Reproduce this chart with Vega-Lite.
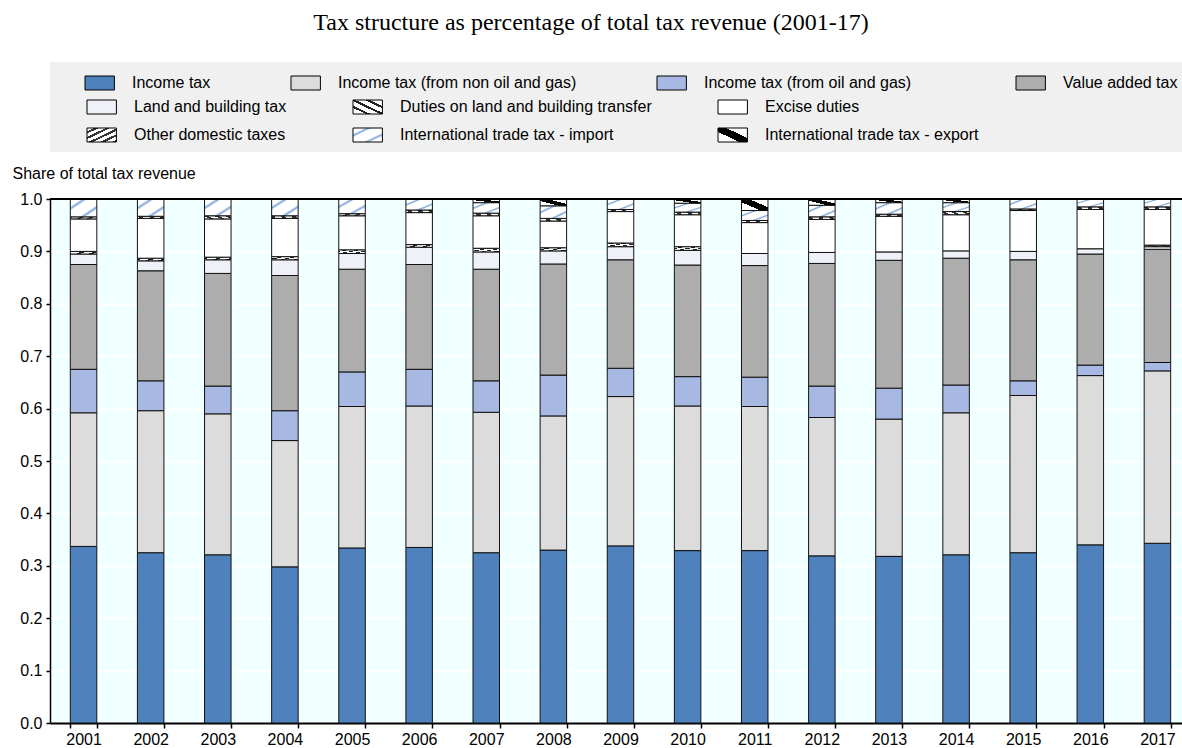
{
  "$schema": "https://vega.github.io/schema/vega-lite/v6.json",
  "width": 1132,
  "height": 524,
  "autosize": {"type": "none"},
  "padding": {"left": 50, "top": 199, "right": 0, "bottom": 25},
  "background": "#ffffff",
  "title": {
    "text": "Tax structure as percentage of total tax revenue (2001-17)",
    "font": "Liberation Serif",
    "fontSize": 24,
    "fontWeight": "normal",
    "color": "#000000",
    "anchor": "middle",
    "dx": -25,
    "offset": 27
  },
  "config": {
    "font": "Liberation Sans, Arial, sans-serif",
    "view": {"fill": "#F0FFFF", "stroke": null}
  },
  "data": {
    "values": [
      {"year": "2001", "Income tax": 0.337, "Income tax (from non oil and gas)": 0.255, "Income tax (from oil and gas)": 0.083, "Value added tax": 0.200, "Land and building tax": 0.020, "Duties on land and building transfer": 0.005, "Excise duties": 0.062, "Other domestic taxes": 0.004, "International trade tax - import": 0.034, "International trade tax - export": 0},
      {"year": "2002", "Income tax": 0.325, "Income tax (from non oil and gas)": 0.271, "Income tax (from oil and gas)": 0.057, "Value added tax": 0.210, "Land and building tax": 0.019, "Duties on land and building transfer": 0.005, "Excise duties": 0.076, "Other domestic taxes": 0.004, "International trade tax - import": 0.033, "International trade tax - export": 0},
      {"year": "2003", "Income tax": 0.321, "Income tax (from non oil and gas)": 0.269, "Income tax (from oil and gas)": 0.053, "Value added tax": 0.215, "Land and building tax": 0.026, "Duties on land and building transfer": 0.005, "Excise duties": 0.073, "Other domestic taxes": 0.006, "International trade tax - import": 0.032, "International trade tax - export": 0},
      {"year": "2004", "Income tax": 0.298, "Income tax (from non oil and gas)": 0.241, "Income tax (from oil and gas)": 0.057, "Value added tax": 0.258, "Land and building tax": 0.030, "Duties on land and building transfer": 0.006, "Excise duties": 0.073, "Other domestic taxes": 0.005, "International trade tax - import": 0.032, "International trade tax - export": 0},
      {"year": "2005", "Income tax": 0.334, "Income tax (from non oil and gas)": 0.270, "Income tax (from oil and gas)": 0.066, "Value added tax": 0.196, "Land and building tax": 0.030, "Duties on land and building transfer": 0.007, "Excise duties": 0.065, "Other domestic taxes": 0.004, "International trade tax - import": 0.028, "International trade tax - export": 0},
      {"year": "2006", "Income tax": 0.335, "Income tax (from non oil and gas)": 0.270, "Income tax (from oil and gas)": 0.070, "Value added tax": 0.200, "Land and building tax": 0.033, "Duties on land and building transfer": 0.005, "Excise duties": 0.061, "Other domestic taxes": 0.005, "International trade tax - import": 0.021, "International trade tax - export": 0},
      {"year": "2007", "Income tax": 0.325, "Income tax (from non oil and gas)": 0.268, "Income tax (from oil and gas)": 0.060, "Value added tax": 0.213, "Land and building tax": 0.033, "Duties on land and building transfer": 0.007, "Excise duties": 0.062, "Other domestic taxes": 0.005, "International trade tax - import": 0.020, "International trade tax - export": 0.007},
      {"year": "2008", "Income tax": 0.330, "Income tax (from non oil and gas)": 0.256, "Income tax (from oil and gas)": 0.078, "Value added tax": 0.212, "Land and building tax": 0.025, "Duties on land and building transfer": 0.006, "Excise duties": 0.051, "Other domestic taxes": 0.005, "International trade tax - import": 0.024, "International trade tax - export": 0.013},
      {"year": "2009", "Income tax": 0.338, "Income tax (from non oil and gas)": 0.285, "Income tax (from oil and gas)": 0.054, "Value added tax": 0.207, "Land and building tax": 0.025, "Duties on land and building transfer": 0.007, "Excise duties": 0.060, "Other domestic taxes": 0.004, "International trade tax - import": 0.020, "International trade tax - export": 0},
      {"year": "2010", "Income tax": 0.329, "Income tax (from non oil and gas)": 0.276, "Income tax (from oil and gas)": 0.056, "Value added tax": 0.213, "Land and building tax": 0.028, "Duties on land and building transfer": 0.007, "Excise duties": 0.061, "Other domestic taxes": 0.005, "International trade tax - import": 0.017, "International trade tax - export": 0.008},
      {"year": "2011", "Income tax": 0.329, "Income tax (from non oil and gas)": 0.275, "Income tax (from oil and gas)": 0.056, "Value added tax": 0.213, "Land and building tax": 0.023, "Duties on land and building transfer": 0, "Excise duties": 0.059, "Other domestic taxes": 0.004, "International trade tax - import": 0.019, "International trade tax - export": 0.022},
      {"year": "2012", "Income tax": 0.319, "Income tax (from non oil and gas)": 0.264, "Income tax (from oil and gas)": 0.060, "Value added tax": 0.234, "Land and building tax": 0.021, "Duties on land and building transfer": 0, "Excise duties": 0.063, "Other domestic taxes": 0.005, "International trade tax - import": 0.022, "International trade tax - export": 0.012},
      {"year": "2013", "Income tax": 0.318, "Income tax (from non oil and gas)": 0.262, "Income tax (from oil and gas)": 0.059, "Value added tax": 0.244, "Land and building tax": 0.016, "Duties on land and building transfer": 0, "Excise duties": 0.068, "Other domestic taxes": 0.004, "International trade tax - import": 0.022, "International trade tax - export": 0.007},
      {"year": "2014", "Income tax": 0.321, "Income tax (from non oil and gas)": 0.271, "Income tax (from oil and gas)": 0.053, "Value added tax": 0.242, "Land and building tax": 0.014, "Duties on land and building transfer": 0, "Excise duties": 0.069, "Other domestic taxes": 0.006, "International trade tax - import": 0.017, "International trade tax - export": 0.007},
      {"year": "2015", "Income tax": 0.325, "Income tax (from non oil and gas)": 0.300, "Income tax (from oil and gas)": 0.028, "Value added tax": 0.231, "Land and building tax": 0.016, "Duties on land and building transfer": 0, "Excise duties": 0.078, "Other domestic taxes": 0.003, "International trade tax - import": 0.019, "International trade tax - export": 0},
      {"year": "2016", "Income tax": 0.340, "Income tax (from non oil and gas)": 0.323, "Income tax (from oil and gas)": 0.020, "Value added tax": 0.212, "Land and building tax": 0.010, "Duties on land and building transfer": 0, "Excise duties": 0.075, "Other domestic taxes": 0.005, "International trade tax - import": 0.015, "International trade tax - export": 0},
      {"year": "2017", "Income tax": 0.343, "Income tax (from non oil and gas)": 0.329, "Income tax (from oil and gas)": 0.016, "Value added tax": 0.216, "Land and building tax": 0.005, "Duties on land and building transfer": 0.003, "Excise duties": 0.068, "Other domestic taxes": 0.005, "International trade tax - import": 0.015, "International trade tax - export": 0}
    ]
  },
  "transform": [
    {"fold": ["Income tax", "Income tax (from non oil and gas)", "Income tax (from oil and gas)", "Value added tax", "Land and building tax", "Duties on land and building transfer", "Excise duties", "Other domestic taxes", "International trade tax - import", "International trade tax - export"], "as": ["cat", "value"]},
    {"filter": "datum.value > 0"},
    {"stack": "value", "groupby": ["year"], "as": ["v0", "v1"]}
  ],
  "layer": [
    {
      "transform": [{"filter": {"field": "cat", "oneOf": ["Income tax", "Income tax (from non oil and gas)", "Income tax (from oil and gas)", "Value added tax"]}}],
      "mark": {"type": "bar", "stroke": "#111111", "strokeWidth": 1},
      "encoding": {
        "x": {
          "field": "year", "type": "ordinal",
          "scale": {"type": "band", "range": [0, 1141], "paddingInner": 0.605, "paddingOuter": 0.3025},
          "axis": {"title": null, "labelAngle": 0, "tickBand": "extent", "grid": true, "gridColor": "#ffffff", "gridWidth": 2, "gridOpacity": 1, "domainColor": "#000000", "domainWidth": 2, "tickColor": "#000000", "tickSize": 5, "tickWidth": 1.5, "labelFontSize": 16, "labelColor": "#000000", "labelPadding": 3}
        },
        "y": {
          "field": "v0", "type": "quantitative",
          "scale": {"domain": [0, 1], "nice": false},
          "axis": {"values": [0, 0.1, 0.2, 0.3, 0.4, 0.5, 0.6, 0.7, 0.8, 0.9, 1.0], "format": ".1f", "grid": true, "gridColor": "#ffffff", "gridWidth": 2, "gridOpacity": 1, "domainColor": "#000000", "domainWidth": 1.5, "tickColor": "#000000", "tickSize": 4, "tickWidth": 1.5, "labelFontSize": 16, "labelColor": "#000000", "labelPadding": 4, "title": "Share of total tax revenue", "titleAngle": 0, "titleX": -38, "titleY": -26, "titleAlign": "left", "titleBaseline": "middle", "titleFontWeight": "normal", "titleFontSize": 16, "titleColor": "#000000"}
        },
        "y2": {"field": "v1"},
        "color": {
          "field": "cat", "type": "nominal",
          "scale": {"domain": ["Income tax", "Income tax (from non oil and gas)", "Income tax (from oil and gas)", "Value added tax"], "range": ["#4F81BD", "#DCDCDC", "#A7B9E3", "#ADADAD"]},
          "legend": {
            "orient": "none", "legendX": 0, "legendY": -137, "direction": "horizontal", "columns": 4,
            "title": " ", "titleOrient": "left", "titleFontSize": 16, "titlePadding": 21,
            "fillColor": "#F0F0F0", "padding": 13, "columnPadding": 78,
            "labelExpr": "datum.label === 'Income tax (from oil and gas)' ? datum.label + '\u2800\u2800' : datum.label",
            "symbolType": "M-1,-1H3.2V1H-1ZM-1,7.71", "symbolSize": 196, "symbolStrokeColor": "#000000", "symbolStrokeWidth": 1, "symbolOpacity": 1,
            "labelOffset": 32, "labelFontSize": 16, "labelColor": "#000000", "labelLimit": 400, "zindex": 0
          }
        }
      }
    },
    {
      "transform": [{"filter": {"field": "cat", "oneOf": ["Land and building tax", "Duties on land and building transfer", "Excise duties", "Other domestic taxes", "International trade tax - import", "International trade tax - export"]}}],
      "mark": {"type": "bar", "stroke": "#111111", "strokeWidth": 1},
      "encoding": {
        "x": {"field": "year", "type": "ordinal"},
        "y": {"field": "v0", "type": "quantitative"},
        "y2": {"field": "v1"},
        "fill": {
          "field": "cat", "type": "nominal",
          "scale": {
            "domain": ["Land and building tax", "Duties on land and building transfer", "Excise duties", "Other domestic taxes", "International trade tax - import", "International trade tax - export"],
            "range": [
              "#EEF1F8",
              {"expr": "{gradient: 'linear', x1: 1, y1: 0, x2: 0, y2: 1, stops: [{offset: 0, color: '#ffffff'}, {offset: 0.22, color: '#ffffff'}, {offset: 0.22, color: '#222222'}, {offset: 0.3, color: '#222222'}, {offset: 0.3, color: '#ffffff'}, {offset: 0.46, color: '#ffffff'}, {offset: 0.46, color: '#222222'}, {offset: 0.54, color: '#222222'}, {offset: 0.54, color: '#ffffff'}, {offset: 0.7, color: '#ffffff'}, {offset: 0.7, color: '#222222'}, {offset: 0.78, color: '#222222'}, {offset: 0.78, color: '#ffffff'}, {offset: 1, color: '#ffffff'}]}"},
              "#FFFFFF",
              {"expr": "{gradient: 'linear', x1: 0, y1: 0, x2: 1, y2: 1, stops: [{offset: 0, color: '#ffffff'}, {offset: 0.12, color: '#ffffff'}, {offset: 0.12, color: '#333333'}, {offset: 0.2, color: '#333333'}, {offset: 0.2, color: '#ffffff'}, {offset: 0.32, color: '#ffffff'}, {offset: 0.32, color: '#333333'}, {offset: 0.4, color: '#333333'}, {offset: 0.4, color: '#ffffff'}, {offset: 0.52, color: '#ffffff'}, {offset: 0.52, color: '#333333'}, {offset: 0.6, color: '#333333'}, {offset: 0.6, color: '#ffffff'}, {offset: 0.72, color: '#ffffff'}, {offset: 0.72, color: '#333333'}, {offset: 0.8, color: '#333333'}, {offset: 0.8, color: '#ffffff'}, {offset: 0.92, color: '#ffffff'}, {offset: 0.92, color: '#333333'}, {offset: 1, color: '#333333'}]}"},
              {"expr": "{gradient: 'linear', x1: 0, y1: 0, x2: 1, y2: 1, stops: [{offset: 0, color: '#ffffff'}, {offset: 0.2, color: '#ffffff'}, {offset: 0.27, color: '#7FA6D9'}, {offset: 0.34, color: '#ffffff'}, {offset: 0.66, color: '#ffffff'}, {offset: 0.73, color: '#7FA6D9'}, {offset: 0.8, color: '#ffffff'}, {offset: 1, color: '#ffffff'}]}"},
              {"expr": "{gradient: 'linear', x1: 1, y1: 0, x2: 0, y2: 1, stops: [{offset: 0, color: '#ffffff'}, {offset: 0.36, color: '#ffffff'}, {offset: 0.36, color: '#000000'}, {offset: 0.64, color: '#000000'}, {offset: 0.64, color: '#ffffff'}, {offset: 1, color: '#ffffff'}]}"}
            ]
          },
          "legend": {
            "orient": "none", "legendX": 36, "legendY": -100, "direction": "horizontal", "columns": 3,
            "title": null, "padding": 0, "columnPadding": 64, "rowPadding": 10,
            "symbolType": "M-1,-1H3.2V1H-1Z", "symbolSize": 196, "symbolStrokeColor": "#000000", "symbolStrokeWidth": 1, "symbolOpacity": 1,
            "labelOffset": 32, "labelFontSize": 16, "labelColor": "#000000", "labelLimit": 400, "zindex": 1
          }
        }
      }
    },
    {
      "mark": {"type": "rule", "color": "#000000", "strokeWidth": 2},
      "encoding": {"y": {"datum": 1, "type": "quantitative"}}
    }
  ]
}
